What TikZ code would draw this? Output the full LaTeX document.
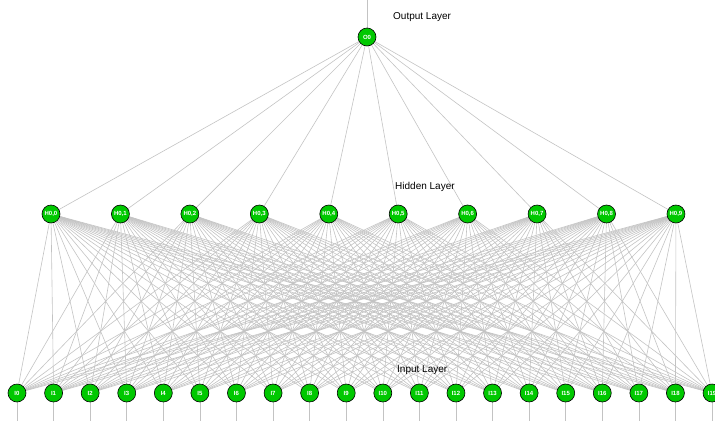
\documentclass[tikz,border=0pt]{standalone}
\usepackage{fontspec}
\setmainfont{Liberation Sans}
\usetikzlibrary{backgrounds}
\begin{document}
\begin{tikzpicture}[x=1pt,y=-1pt,
  neuron/.style={circle,draw=black,line width=0.6pt,fill={rgb,255:red,0;green,200;blue,0},
    minimum size=18pt,inner sep=0pt,text=white,font=\fontsize{6}{7}\selectfont\bfseries},
  link/.style={draw={rgb,255:red,195;green,195;blue,195},line width=0.6pt},
  layerlabel/.style={anchor=west,font=\fontsize{10}{12}\selectfont,inner sep=0pt}]
\useasboundingbox (0,0) rectangle (715,421);
% neurons
\node[neuron] (O0) at (367,37) {O0};
\foreach \i in {0,...,9} {
  \node[neuron] (H\i) at ({51+\i*69.44},214) {H0,\i};
}
\foreach \i in {0,...,19} {
  \node[neuron] (I\i) at ({17+\i*36.58},393) {I\i};
  \coordinate (ib\i) at ({17+\i*36.58},421);
}
\coordinate (otop) at (367,0);
% weights, drawn beneath the neurons
\begin{scope}[on background layer]
\foreach \h in {0,...,9} {
  \foreach \i in {0,...,19} {
    \draw[link] (I\i.center) -- (H\h.center);
  }
  \draw[link] (H\h.center) -- (O0.center);
}
\draw[link] (O0.center) -- (otop);
\foreach \i in {0,...,19} {
  \draw[link] (I\i.center) -- (ib\i);
}
\end{scope}
% layer labels
\node[layerlabel] (lo) at (393,17.5) {Output Layer};
\node[layerlabel] (lh) at (395,186.5) {Hidden Layer};
\node[layerlabel] (li) at (397,370.5) {Input Layer};
\end{tikzpicture}
\end{document}
